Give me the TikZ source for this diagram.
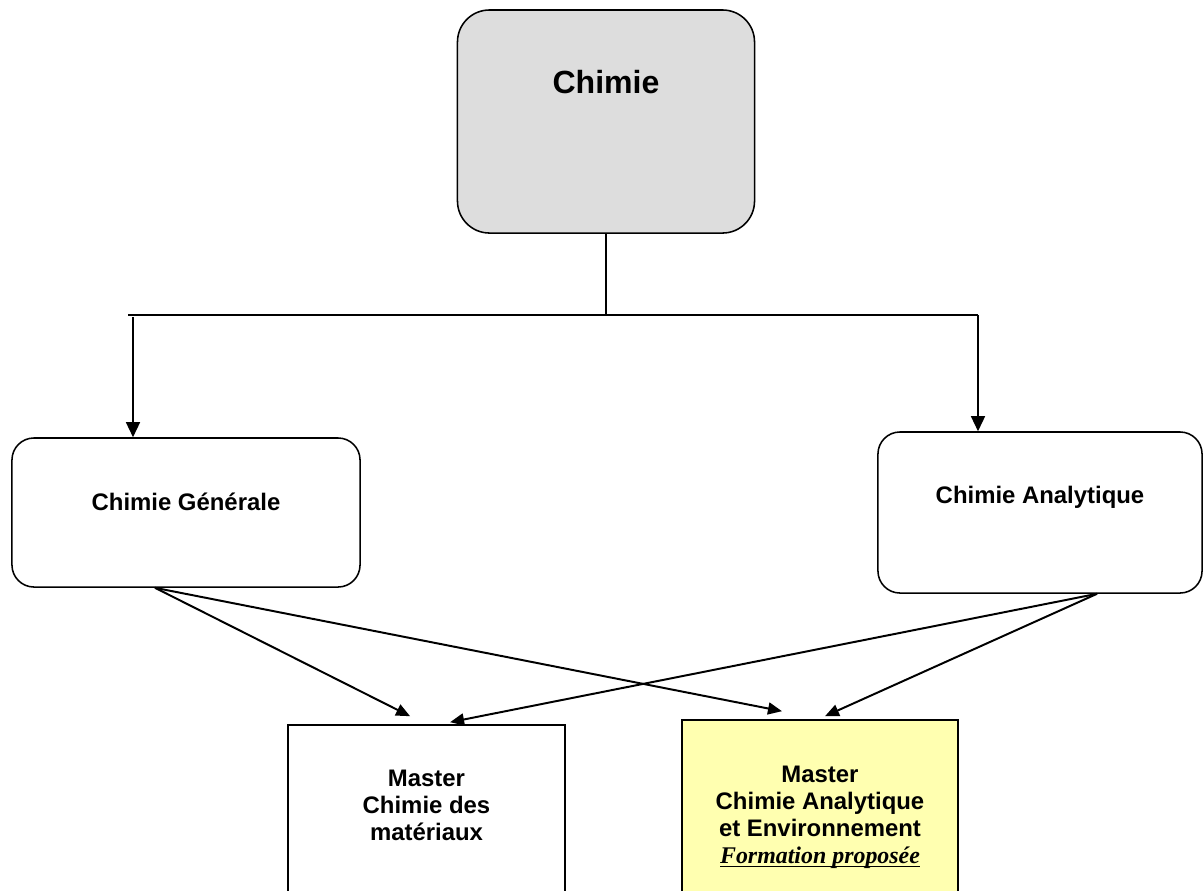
\documentclass[tikz,border=0pt]{standalone}
\usepackage{fontspec}
\setmainfont{Liberation Sans}
\newfontfamily\timesfont{Liberation Serif}
\usetikzlibrary{arrows.meta}
\newcommand{\souligne}[1]{\setbox0\hbox{#1}\rlap{\rule[-3pt]{\wd0}{1pt}}\box0}
\definecolor{gris}{HTML}{DDDDDD}
\definecolor{jaune}{HTML}{FFFFB0}
\tikzset{
	boite/.style={draw, line width=1.1pt, inner sep=0pt, anchor=base, align=center, font=\fontsize{17}{19.2}\selectfont\bfseries},
	trait/.style={line width=1pt},
	chute/.style={line width=1pt, -{Triangle[length=0.375cm, width=0.35cm]}},
	fleche/.style={line width=1.4pt, -{Triangle[length=0.35cm, width=0.3cm]}},
}
\begin{document}
\begin{tikzpicture}[x=0.025cm, y=-0.025cm]
	\useasboundingbox (0,0) rectangle (1203,890);
	\clip (0,0) rectangle (1203,890);

	\node[boite, rounded corners=0.8cm, fill=gris, minimum width=7.425cm, text height=2.075cm, text depth=3.5cm, font=\fontsize{22.8}{26}\selectfont\bfseries] (chimie) at (606,93) {Chimie};
	\node[boite, rounded corners=0.55cm, minimum width=8.7cm, text height=1.8cm, text depth=1.925cm] (cg) at (186,510) {Chimie Générale};
	\node[boite, rounded corners=0.55cm, minimum width=8.1cm, text height=1.775cm, text depth=2.25cm] (ca) at (1040,503) {Chimie Analytique};
	\node[boite, minimum width=6.925cm, text height=2.875cm, text depth=1.5cm] (m1) at (426.5,840) {Master\\Chimie des\\matériaux};
	\node[boite, fill=jaune, minimum width=6.9cm, text height=3.575cm, text depth=1cm] (m2) at (820,863) {Master\\Chimie Analytique\\et Environnement\\{\timesfont\itshape\souligne{Formation proposée}}};

	\coordinate (noeud) at (606,315);
	\coordinate (busg) at (128,315);
	\coordinate (busd) at (978,315);
	\coordinate (chuteg) at (133,317);
	\draw[trait] (chimie.south) -- (noeud);
	\draw[trait] (busg) -- (busd);
	\draw[chute] (chuteg) -- (chuteg |- cg.north);
	\draw[chute] (busd) -- (busd |- ca.north);

	\draw[fleche] ([xshift=-0.775cm]cg.south) -- ([xshift=-0.41cm, yshift=0.2cm]m1.north);
	\draw[fleche] ([xshift=-0.775cm]cg.south) -- ([xshift=-0.95cm, yshift=0.2cm]m2.north);
	\draw[fleche] ([xshift=1.425cm]ca.south) -- ([xshift=0.59cm, yshift=0.05cm]m1.north);
	\draw[fleche] ([xshift=1.425cm]ca.south) -- ([xshift=0.125cm, yshift=0.075cm]m2.north);
\end{tikzpicture}
\end{document}
